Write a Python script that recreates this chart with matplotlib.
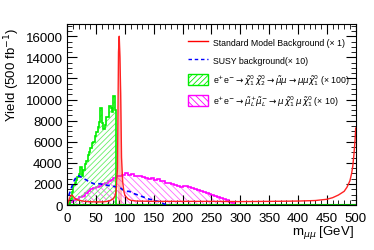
import matplotlib.pyplot as plt
import numpy as np
from matplotlib.lines import Line2D
from matplotlib.patches import Patch
from matplotlib.ticker import MultipleLocator

plt.rcParams['font.family'] = ['Liberation Sans', 'DejaVu Sans']
plt.rcParams['hatch.linewidth'] = 0.6

# green: e+e- -> chi1 chi2 -> smu mu -> mu mu chi1 (x100), 2.5 GeV bins from 0
green_y = [0, 200, 600, 1200, 1900, 2100, 2400, 2700, 2900, 3600, 2800, 3300,
           3900, 4200, 4700, 5000, 5400, 5900, 6000, 6500, 6900, 7400, 7900, 9200,
           7800, 7200, 7600, 8300, 8300, 9400, 9200, 8800, 10300, 9000]
# magenta: slepton pair (x10), 5 GeV bins from 0
mag_y = [0, 300, 450, 600, 750, 900, 1100, 1350, 1500, 1600, 1750, 1800,
         1950, 2100, 2250, 2400, 2600, 2750, 2800, 2850, 3000, 2850, 2950, 2800,
         2750, 2800, 2650, 2600, 2500, 2550, 2400, 2450, 2300, 2250, 2100, 2050,
         2000, 1900, 1850, 1750, 1850, 1800, 1700, 1600, 1500, 1450, 1350, 1200,
         1100, 1050, 950, 850, 750, 650, 550, 450, 300, 150, 50, 0]
# blue: SUSY background (x10), 5 GeV bins from 0
susy_y = [900, 1700, 2400, 2800, 2700, 2500, 2400, 2200, 2100, 2000, 2050, 2000,
          1950, 1900, 1850, 1800, 1750, 1700, 1600, 1400, 1300, 1300, 1150, 1050,
          950, 850, 750, 650, 550, 500, 400, 350, 250, 100, 50, 0]
# red: Standard Model background (x1)
sm_x = [0, 1, 3, 5, 7, 9, 12, 15, 20, 30, 40, 50, 60, 70, 75, 80, 83, 85, 87,
        88.75, 90, 91.25, 92.5, 94, 96, 98, 100, 105, 110, 120, 150, 200, 250,
        300, 350, 400, 430, 450, 460, 470, 480, 485, 490, 493, 495, 497, 499, 500]
sm_y = [0, 200, 500, 800, 950, 900, 700, 550, 450, 350, 320, 300, 300, 350, 450,
        600, 900, 1500, 3500, 14500, 16000, 14000, 10600, 4500, 2200, 1300, 900,
        600, 450, 380, 350, 350, 350, 330, 350, 380, 430, 550, 700, 950, 1300,
        1700, 2300, 3000, 3700, 4800, 6200, 7300]

fig = plt.figure(figsize=(3.74, 2.51), dpi=100)
ax = fig.add_axes([0.180, 0.179, 0.771, 0.721])

g_edges = np.arange(len(green_y) + 1) * 2.5
m_edges = np.arange(len(mag_y) + 1) * 5.0
s_centers = np.arange(len(susy_y)) * 5.0 + 2.5

ax.stairs(mag_y, m_edges, fill=True, facecolor='none', edgecolor='#ff66ff',
          hatch='\\\\\\\\\\', linewidth=0)
ax.stairs(mag_y, m_edges, color='#ff00ff', linewidth=1.2)
ax.stairs(green_y, g_edges, fill=True, facecolor='none', edgecolor='#66ee66',
          hatch='//////', linewidth=0)
ax.stairs(green_y, g_edges, color='#00ee00', linewidth=1.2)
ax.axhline(0, color='#00aa00', linewidth=1.5)
ax.plot(s_centers, susy_y, color='blue', linestyle=(0, (2.5, 2)), linewidth=1.2)

smx = np.array(sm_x)
smy = np.array(sm_y)
peak = (smx >= 87) & (smx <= 94)
ax.fill_between(smx, smy, where=peak, color='#ff4444', alpha=0.35, linewidth=0)
ax.plot(sm_x, sm_y, color='#ff2222', linewidth=1.0)

ax.set_xlim(0, 500)
ax.set_ylim(0, 17150)
ax.xaxis.set_major_locator(MultipleLocator(50))
ax.xaxis.set_minor_locator(MultipleLocator(10))
ax.yaxis.set_major_locator(MultipleLocator(2000))
ax.yaxis.set_minor_locator(MultipleLocator(500))
ax.tick_params(which='both', direction='in', top=True, right=True, labelsize=9.5)
ax.tick_params(which='major', length=7, width=0.8)
ax.tick_params(which='minor', length=3.5, width=0.6)
ax.tick_params(axis='x', pad=5)

ax.set_ylabel('Yield (500 fb$^{-1}$)', fontsize=9.5, loc='top', va='center')
ax.yaxis.set_label_coords(-0.19, 0.985)
ax.set_xlabel(r'm$_{\mu\mu}$ [GeV]', fontsize=9.5, loc='right', va='center')
ax.xaxis.set_label_coords(0.995, -0.145)

handles = [
    Line2D([], [], color='red', linewidth=1.0),
    Line2D([], [], color='blue', linestyle=(0, (2.5, 2)), linewidth=1.0),
    Patch(facecolor='white', edgecolor='#00ee00', hatch='//////', linewidth=1.0),
    Patch(facecolor='white', edgecolor='#ff00ff', hatch='\\\\\\\\\\', linewidth=1.0),
]
labels = [
    'Standard Model Background (× 1)',
    'SUSY background(× 10)',
    r'e$^{+}$e$^{-}$$\rightarrow\tilde{\chi}^{0}_{1}\,\tilde{\chi}^{0}_{2}\rightarrow\tilde{\mu}\mu\rightarrow\mu\mu\tilde{\chi}^{0}_{1}$ (× 100)',
    r'e$^{+}$e$^{-}$$\rightarrow\tilde{\mu}^{+}_{L}\tilde{\mu}^{-}_{L}\rightarrow\mu\,\tilde{\chi}^{0}_{1}\,\mu\,\tilde{\chi}^{0}_{1}$ (× 10)',
]
ax.legend(handles, labels, loc='upper left', bbox_to_anchor=(0.405, 0.948),
          frameon=False, fontsize=6.3, handlelength=2.3, handleheight=1.6,
          handletextpad=0.6, labelspacing=0.7, borderaxespad=0)

fig.savefig('out.png', dpi=100)
